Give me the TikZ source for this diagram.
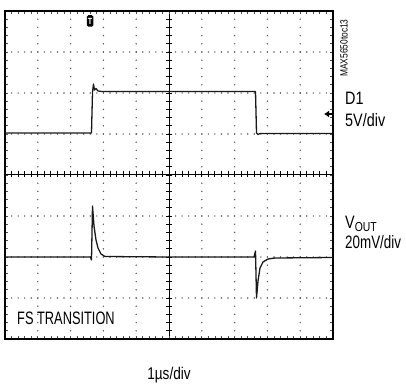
\documentclass[tikz,border=0pt]{standalone}
\usepackage{fontspec}
\setmainfont{Liberation Sans}[FakeStretch=0.8]
\usepackage{tikz}
\usetikzlibrary{arrows.meta,shapes}

\begin{document}
\begin{tikzpicture}[x=1pt,y=-1pt,
    griddot/.style={fill=black!65},
    axis/.style={draw=black, line width=0.9},
    trace/.style={draw=black!90, line width=1.3, line join=round},
    label/.style={anchor=base west, inner sep=0, font=\fontsize{18}{18}\selectfont}]
\useasboundingbox (0,0) rectangle (406,385);

% dotted graticule
\foreach \i in {1,2,3,4,6,7,8,9}
  \foreach \j in {1,...,39}
    \fill[griddot] ({5+32.8*\i},{11+8.2*\j}) circle (0.8);
\foreach \k in {1,2,3,5,6,7}
  \foreach \j in {1,...,49}
    \fill[griddot] ({5+6.56*\j},{11+41*\k}) circle (0.8);

% centre axes with minor ticks
\draw[axis] (169,11) -- (169,339);
\draw[axis] (5,174) -- (333,174);
\foreach \j in {1,...,39}
  \draw[axis] (166,{11+8.2*\j}) -- (172,{11+8.2*\j});
\foreach \j in {1,...,49}
  \draw[axis] ({5+6.56*\j},171) -- ({5+6.56*\j},177);

% ticks along the frame
\foreach \j in {1,...,49} {
  \draw[black!70, line width=0.8] ({5+6.56*\j},11) -- ({5+6.56*\j},14);
  \draw[black!70, line width=0.8] ({5+6.56*\j},339) -- ({5+6.56*\j},336);
}
\foreach \j in {1,...,39} {
  \draw[black!70, line width=0.8] (5,{11+8.2*\j}) -- (8,{11+8.2*\j});
  \draw[black!70, line width=0.8] (333,{11+8.2*\j}) -- (330,{11+8.2*\j});
}

\draw[line width=2.2] (5,11) rectangle (333,339);

% D1 trace
\draw[trace] (5,133) -- (91.5,133) -- (92.5,92) -- (93.5,84) -- (94.5,90)
    -- (96,88.5) -- (98,91) -- (102,91.5) -- (255.5,91.5) -- (256.5,133)
    -- (258,134.5) -- (260,133.5) -- (333,133.5);

% VOUT trace
\draw[trace] (5,257) -- (90.5,257) -- (91.5,260) -- (92.5,206) -- (94,226)
    -- (96,240) -- (98,248) -- (101,254) -- (105,256.5) -- (169,257)
    -- (254,257) -- (255.5,251) -- (256.5,298) -- (258,281) -- (260,268)
    -- (263,262) -- (268,259) -- (275,258) -- (333,257.5);

% markers
\node[rectangle, fill=black, text=white, rounded corners=1.5,
    minimum width=6.5, minimum height=11.5, inner sep=0,
    font=\fontsize{9}{9}\selectfont\bfseries] (trig) at (90,21) {T};
\coordinate (gnd) at (333,114);
\draw[black, line width=1.2, -{Latex[length=5,width=7]}] (gnd) -- ++(-9,0);

% labels
\node[label] (d1) at (345,104) {D1};
\node[label] (d1scale) at (345,126) {5V/div};
\node[label] (vout) at (345,228)
    {V\raisebox{-0.2em}{\fontsize{13}{13}\selectfont OUT}};
\node[label] (voutscale) at (345,248) {\scalebox{0.93}[1]{20mV/div}};
\node[label] (fs) at (17,324) {\scalebox{0.89}[1]{FS TRANSITION}};
\node[anchor=base, inner sep=0, font=\fontsize{17}{17}\selectfont]
    (timebase) at (169,379) {1µs/div};
\node[rotate=90, anchor=south west, inner sep=0,
    font=\fontsize{10.5}{10.5}\selectfont] (tocid) at (348,77) {MAX5650toc13};
\end{tikzpicture}
\end{document}
